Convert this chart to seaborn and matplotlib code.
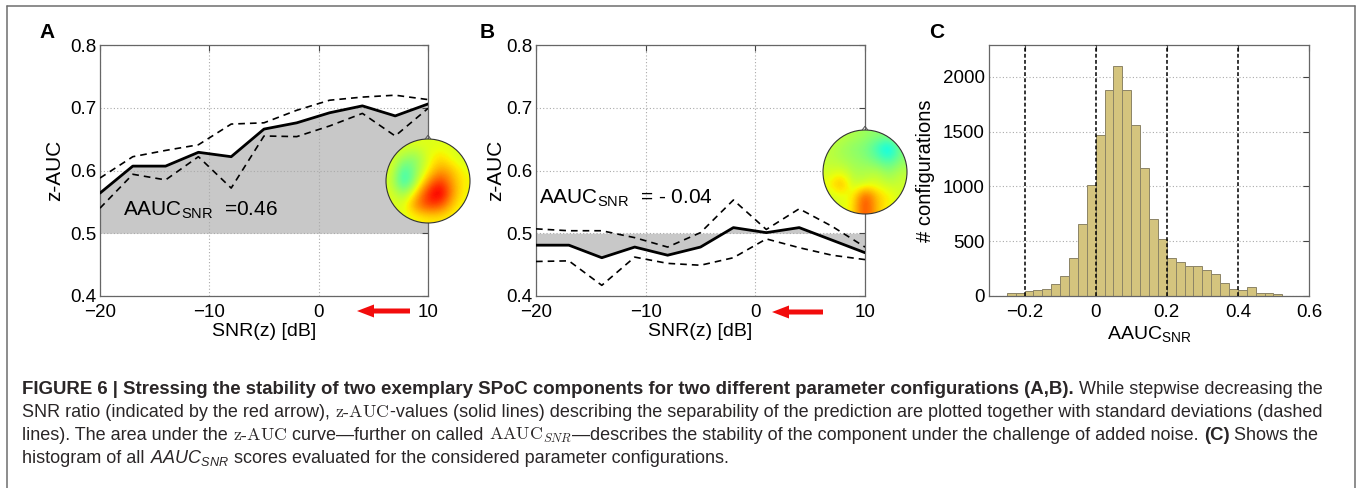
import numpy as np
import pandas as pd
import matplotlib
matplotlib.use('Agg')
import matplotlib.pyplot as plt
import matplotlib.transforms as mtransforms
from matplotlib.patches import FancyArrow, Circle, Polygon
from matplotlib.lines import Line2D
import seaborn as sns

# ---- data ----
snr = [-20, -17, -14, -11, -8, -5, -2, 1, 4, 7, 10]

a_mean = [0.564, 0.607, 0.607, 0.629, 0.622, 0.666, 0.676, 0.692, 0.703, 0.687, 0.706]
a_upper = [0.588, 0.622, 0.632, 0.641, 0.674, 0.676, 0.696, 0.712, 0.717, 0.720, 0.713]
a_lower = [0.540, 0.594, 0.585, 0.622, 0.572, 0.655, 0.654, 0.671, 0.691, 0.655, 0.699]

b_mean = [0.481, 0.481, 0.461, 0.478, 0.465, 0.478, 0.509, 0.501, 0.509, 0.489, 0.469]
b_upper = [0.507, 0.504, 0.504, 0.493, 0.478, 0.501, 0.553, 0.506, 0.539, 0.511, 0.478]
b_lower = [0.455, 0.456, 0.417, 0.462, 0.452, 0.449, 0.461, 0.491, 0.477, 0.465, 0.458]

a_text = r"AAUC$_{\mathrm{SNR}}$  =0.46"
b_text = r"AAUC$_{\mathrm{SNR}}$  = - 0.04"

hist_start = -0.275
hist_width = 0.025
hist_counts = [3, 24, 30, 42, 54, 60, 108, 178, 343, 660, 1012,
               1470, 1880, 2100, 1880, 1560, 1170, 702, 521,
               343, 310, 274, 271, 235, 199, 117, 63,
               57, 81, 30, 27, 15, 3, 1, 3]
hist_marks = [-0.2, 0.0, 0.2, 0.4]

# scalp maps, coarse colour values (jet scale 0..1)
topo_a = [[0.62, 0.62, 0.62, 0.62, 0.62, 0.62, 0.62],
          [0.62, 0.55, 0.52, 0.62, 0.68, 0.62, 0.60],
          [0.62, 0.42, 0.52, 0.64, 0.74, 0.70, 0.63],
          [0.60, 0.37, 0.55, 0.74, 0.86, 0.74, 0.65],
          [0.62, 0.52, 0.68, 0.88, 0.97, 0.76, 0.64],
          [0.62, 0.62, 0.78, 0.86, 0.84, 0.70, 0.63],
          [0.62, 0.62, 0.64, 0.66, 0.66, 0.64, 0.62]]
topo_b = [[0.60, 0.58, 0.56, 0.54, 0.52, 0.52, 0.58],
          [0.58, 0.55, 0.52, 0.50, 0.42, 0.30, 0.50],
          [0.58, 0.56, 0.54, 0.52, 0.48, 0.42, 0.52],
          [0.60, 0.62, 0.56, 0.56, 0.58, 0.52, 0.58],
          [0.64, 0.76, 0.58, 0.60, 0.62, 0.58, 0.60],
          [0.60, 0.62, 0.64, 0.86, 0.70, 0.66, 0.60],
          [0.60, 0.62, 0.66, 0.86, 0.70, 0.64, 0.60]]

# ---- style ----
sns.set_theme(style='white')
plt.rcParams['font.family'] = ['Liberation Sans', 'DejaVu Sans']
plt.rcParams.update({
    'mathtext.fontset': 'custom',
    'mathtext.rm': 'Liberation Sans',
    'mathtext.it': 'Liberation Sans:italic',
    'mathtext.bf': 'Liberation Sans:bold',
    'mathtext.sf': 'Liberation Sans',
    'text.color': 'black',
    'axes.labelcolor': 'black',
    'xtick.color': '#444444',
    'ytick.color': '#444444',
})

W, H = 1357, 488
fig = plt.figure(figsize=(W / 100, H / 100), dpi=100)
fig.patch.set_facecolor('white')
px = mtransforms.IdentityTransform()


def box(left, right, top=45, bottom=296):
    return [left / W, (H - bottom) / H, (right - left) / W, (bottom - top) / H]


def style_axes(ax):
    for s in ax.spines.values():
        s.set_color('#666666')
        s.set_linewidth(0.9)
    ax.tick_params(direction='in', top=True, right=True, length=4, width=0.8,
                   labelsize=13.5, labelcolor='black')
    ax.tick_params(axis='x', pad=5.5)
    ax.tick_params(axis='y', pad=2.5)


def snr_panel(ax, mean, upper, lower, label_x, note, note_xy):
    ax.fill_between(snr, 0.5, mean, color='#c8c8c8', lw=0, zorder=0.4)
    sns.lineplot(x=snr, y=mean, color='black', lw=2.0, ax=ax, zorder=3)
    sns.lineplot(x=snr, y=upper, color='black', lw=1.2, linestyle=(0, (4, 3)), ax=ax, zorder=3)
    sns.lineplot(x=snr, y=lower, color='black', lw=1.2, linestyle=(0, (4, 3)), ax=ax, zorder=3)
    ax.set_xlim(-20, 10)
    ax.set_ylim(0.4, 0.8)
    ax.set_xticks([-20, -10, 0, 10])
    ax.set_yticks([0.4, 0.5, 0.6, 0.7, 0.8])
    ax.set_yticklabels(['0.4', '0.5', '0.6', '0.7', '0.8'])
    ax.set_axisbelow(True)
    ax.grid(True, linestyle=(0, (1, 2)), color='#aaaaaa', lw=0.8)
    style_axes(ax)
    ax.set_xlabel('SNR(z) [dB]', fontsize=14)
    ax.xaxis.label.set_va('center')
    ax.xaxis.set_label_coords(0.5, -0.14)
    ax.set_ylabel('z-AUC', fontsize=15)
    ax.yaxis.label.set_va('center')
    ax.yaxis.set_label_coords(label_x, 0.5)
    ax.text(note_xy[0], note_xy[1], note, fontsize=15, va='center', ha='left', zorder=4)


def topo(values, cx, cy, diam):
    span = 2.3
    size = diam * span / 2
    tax = fig.add_axes([(cx - size / 2) / W, (H - cy - size / 2) / H, size / W, size / H])
    im = tax.imshow(np.array(values), cmap='jet', vmin=0, vmax=1, interpolation='bicubic',
                    extent=(-1, 1, -1, 1))
    im.set_clip_path(Circle((0, 0), 1, transform=tax.transData))
    tax.add_patch(Circle((0, 0), 1, fill=False, ec='#333333', lw=0.8))
    tax.add_patch(Polygon([(-0.07, 0.997), (0, 1.09), (0.07, 0.997)], closed=False,
                          fill=False, ec='#555555', lw=0.7))
    tax.set_xlim(-span / 2, span / 2)
    tax.set_ylim(-span / 2, span / 2)
    tax.set_aspect('equal')
    tax.axis('off')


def red_arrow(tail_x, tip_x, y):
    fig.add_artist(FancyArrow(tail_x, H - y, tip_x - tail_x, 0, width=5, head_width=13,
                              head_length=17, length_includes_head=True, color='#f20c0c',
                              lw=0, transform=px))


# ---- panel A ----
ax_a = fig.add_axes(box(100, 428))
snr_panel(ax_a, a_mean, a_upper, a_lower, -0.137, a_text, (-17.9, 0.537))
topo(topo_a, 428, 181, 84)
red_arrow(410, 357, 311)

# ---- panel B ----
ax_b = fig.add_axes(box(536, 865))
snr_panel(ax_b, b_mean, b_upper, b_lower, -0.122, b_text, (-19.7, 0.555))
topo(topo_b, 865, 172, 84)
red_arrow(823, 772, 312)

# ---- panel C ----
ax_c = fig.add_axes(box(989, 1309))
n_bins = len(hist_counts)
hist_df = pd.DataFrame({'aauc': hist_start + hist_width * (np.arange(n_bins) + 0.5),
                        'n': hist_counts})
sns.histplot(data=hist_df, x='aauc', weights='n', binwidth=hist_width,
             binrange=(hist_start, hist_start + hist_width * n_bins), ax=ax_c,
             color='#d4c47e', edgecolor='#8c8466', linewidth=0.7, alpha=1)
for v in hist_marks:
    ax_c.axvline(v, color='black', lw=1.1, linestyle=(0, (2.5, 1.5)), zorder=4)
ax_c.set_xlim(-0.3, 0.6)
ax_c.set_ylim(0, 2290)
ax_c.set_xticks([-0.2, 0, 0.2, 0.4, 0.6])
ax_c.set_xticklabels(['\u22120.2', '0', '0.2', '0.4', '0.6'])
ax_c.set_yticks([0, 500, 1000, 1500, 2000])
ax_c.set_axisbelow(True)
ax_c.yaxis.grid(True, linestyle=(0, (1, 2)), color='#aaaaaa', lw=0.8)
ax_c.xaxis.grid(False)
style_axes(ax_c)
ax_c.tick_params(axis='y', pad=3)
ax_c.set_xlabel(r'AAUC$_{\mathrm{SNR}}$', fontsize=14)
ax_c.xaxis.label.set_va('center')
ax_c.xaxis.set_label_coords(0.5, -0.15)
ax_c.set_ylabel('# configurations', fontsize=14.5)
ax_c.yaxis.label.set_va('center')
ax_c.yaxis.set_label_coords(-0.197, 0.5)

# panel letters
for letter, x in [('A', 47), ('B', 487), ('C', 937)]:
    fig.text(x / W, 1 - 32.5 / H, letter, fontsize=15, fontweight='bold', ha='center', va='center')

# outer frame
frame = dict(color='#6e6e6e', lw=1.1, transform=px)
fig.add_artist(Line2D([7, 7], [0, H - 6], **frame))
fig.add_artist(Line2D([W - 2, W - 2], [0, H - 6], **frame))
fig.add_artist(Line2D([7, W - 2], [H - 6, H - 6], **frame))

# ---- caption ----
renderer = fig.canvas.get_renderer()
ink = '#2a2627'
bold = dict(fontweight='bold', color=ink)
norm = dict(color=ink)
serif = dict(color=ink, math_fontfamily='cm')
zauc = r'$\mathrm{z\text{-}AUC}$'

cap_lines = [
    [('FIGURE 6 | Stressing the stability of two exemplary SPoC components for two different '
      'parameter configurations (A,B).', bold), ' ', ('While stepwise decreasing the', norm)],
    [('SNR ratio (indicated by the red arrow),', norm), ' ', (zauc, serif),
     ('-values (solid lines) describing the separability of the prediction are plotted together '
      'with standard deviations (dashed', norm)],
    [('lines). The area under the', norm), ' ', (zauc, serif), ' ', ('curve\u2014further on called', norm),
     ' ', (r'$\mathrm{AAUC}_{SNR}$', serif),
     ('\u2014describes the stability of the component under the challenge of added noise.', norm),
     ' ', ('(C)', bold), ' ', ('Shows the', norm)],
    [('histogram of all', norm), ' ', (r'$AAUC_{SNR}$', norm), ' ',
     ('scores evaluated for the considered parameter configurations.', norm)],
]
cap_base = [394, 417, 440, 463]
cap_left = 22


def measure(s, size, kw):
    t = fig.text(0, 0, s, fontsize=size, **kw)
    w = t.get_window_extent(renderer).width
    t.remove()
    return w


def space_w(size):
    return measure('n n', size, norm) - measure('nn', size, norm)


def line_width(parts, size_norm, size_bold):
    total = 0
    for p in parts:
        if p == ' ':
            total += space_w(size_norm)
        else:
            total += measure(p[0], size_bold if p[1] is bold else size_norm, p[1])
    return total


# regular size from line 2 (ends at x=1321), bold size from line 1 (ends at x=1328)
size_n = 10 * (1321 - cap_left) / line_width(cap_lines[1], 10, 10)
rest = measure(cap_lines[0][2][0], size_n, norm) + space_w(size_n)
size_b = 10 * (1328 - cap_left - rest) / measure(cap_lines[0][0][0], 10, bold)

for parts, yb in zip(cap_lines, cap_base):
    x = cap_left
    for p in parts:
        if p == ' ':
            x += space_w(size_n)
            continue
        size = size_b if p[1] is bold else size_n
        t = fig.text(x / W, 1 - yb / H, p[0], fontsize=size, ha='left', va='baseline', **p[1])
        x += t.get_window_extent(renderer).width

fig.savefig('out.png', dpi=100, facecolor='white')
